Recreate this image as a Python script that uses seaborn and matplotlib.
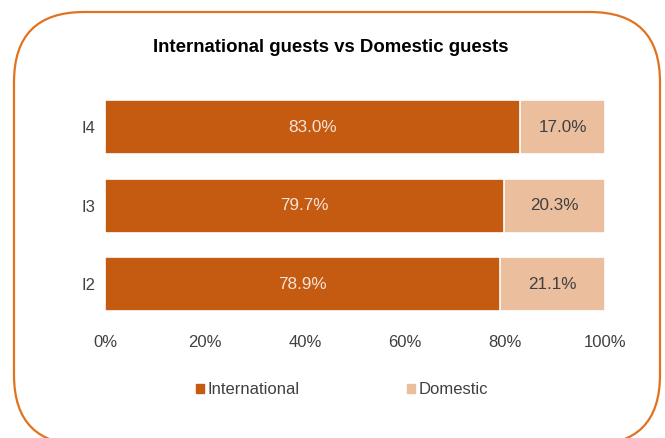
import matplotlib
matplotlib.use("Agg")
import matplotlib.pyplot as plt
import matplotlib.patches as mpatches
from matplotlib.transforms import IdentityTransform
import seaborn as sns
import pandas as pd

years = ["I4", "I3", "I2"]
international = [83.0, 79.7, 78.9]
domestic = [17.0, 20.3, 21.1]
xticks = [0, 20, 40, 60, 80, 100]
xtick_labels = ["0%", "20%", "40%", "60%", "80%", "100%"]

sns.set_theme(style="white")
plt.rcParams['font.family'] = ['Liberation Sans', 'DejaVu Sans']

c_int = "#C55A11"
c_dom = "#EBBE9E"

df = pd.DataFrame({"year": years, "International": international, "Domestic": domestic})
df["Total"] = df["International"] + df["Domestic"]

fig = plt.figure(figsize=(6.65, 4.38), dpi=100)
ax = fig.add_axes([105/665, 1-323.5/438, 500/665, 235.5/438])

sns.barplot(data=df, x="Total", y="year", order=years, color=c_dom, orient="h",
            width=0.69, edgecolor="white", linewidth=1.2, saturation=1, ax=ax)
sns.barplot(data=df, x="International", y="year", order=years, color=c_int, orient="h",
            width=0.69, edgecolor="white", linewidth=1.2, saturation=1, ax=ax)

for i, (a, b) in enumerate(zip(international, domestic)):
    ax.text(a/2, i, f"{a:.1f}%", ha="center", va="center", color="#F6E4D8", fontsize=12.3)
    ax.text(a + b/2, i, f"{b:.1f}%", ha="center", va="center", color="#404040", fontsize=12.3)

ax.set_xlim(0, 100)
ax.set_ylim(2.5, -0.5)
ax.set_xticks(xticks)
ax.set_xticklabels(xtick_labels, fontsize=12, color="#404040")
ax.tick_params(axis="y", labelsize=12, labelcolor="#404040", pad=7, length=0)
ax.tick_params(axis="x", pad=8, length=0)
ax.set_xlabel("")
ax.set_ylabel("")
for s in ax.spines.values():
    s.set_visible(False)

fig.text(331/665, 1-47/438, "International guests vs Domestic guests", ha="center", va="center",
         fontsize=13.4, fontweight="bold", color="black")

handles = [mpatches.Patch(color=c_int, label="International"),
           mpatches.Patch(color=c_dom, label="Domestic")]
fig.legend(handles=handles, loc="center", bbox_to_anchor=(342/665, 1-390/438), ncol=2,
           frameon=False, fontsize=12, handlelength=0.45, handleheight=0.45,
           handletextpad=0.2, columnspacing=6.5, labelcolor="#404040")

border = mpatches.FancyBboxPatch((14, -7), 646, 438-12+7,
                                 boxstyle="round,pad=0,rounding_size=70",
                                 transform=IdentityTransform(), fill=False,
                                 edgecolor="#E2731E", linewidth=1.6)
fig.add_artist(border)

fig.savefig("out.png", dpi=100)
